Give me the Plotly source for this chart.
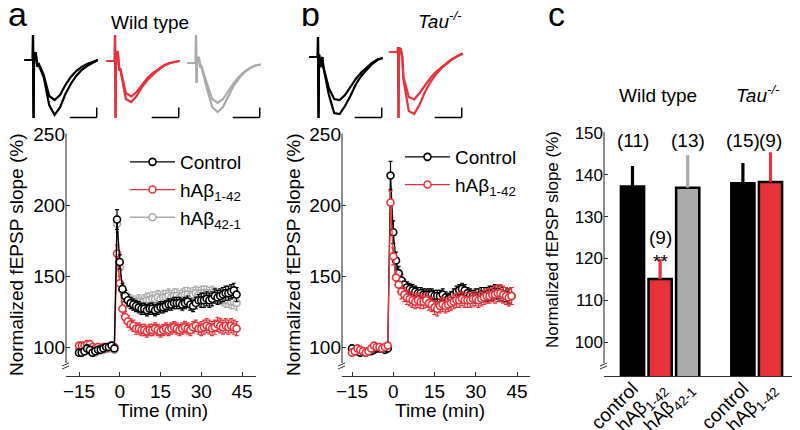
import plotly.graph_objects as go

FONT = "Arial, Liberation Sans, Helvetica, sans-serif"
BLACK = "#000000"
RED = "#e8323a"
GRAY = "#ababab"
AXIS = "#333333"
# the page body keeps its default 8 px margin, so the figure is sized to fill the 800x430 window
PAGE_MARGIN = 8
W, H = 800 - PAGE_MARGIN, 430 - PAGE_MARGIN

# ---------------- data: time courses (panels a, b) ----------------
TIME_MIN = list(range(-15, 44))

A_CONTROL = [96, 96, 97, 99, 98, 96, 97, 98, 98, 99, 100, 100, 101, 99,
             190,
             160, 141, 136, 133, 131, 130, 129, 128, 127, 127,
             126, 127, 127, 126, 127, 128, 128, 129, 130, 130,
             131, 131, 131, 130, 131, 132, 130, 129, 131, 133,
             133, 133, 134, 133, 134, 136, 135, 136, 137, 138,
             138, 139, 140, 137]
A_CONTROL_ERR = [2, 2, 2, 2, 2, 2, 2, 2, 2, 2, 2, 2, 2, 2,
                 7,
                 5, 4, 4, 4, 4, 4, 4, 4, 4, 4,
                 4, 4, 4, 4, 4, 4, 4, 4, 4, 4,
                 4, 4, 4, 4, 4, 4, 4, 4, 4, 4,
                 5, 5, 5, 5, 5, 5, 5, 5, 5, 5,
                 5, 5, 5, 5]
A_ABETA = [101, 101, 101, 102, 102, 100, 99, 100, 99, 100, 99, 100, 101, 100,
           166,
           145, 127, 121, 118, 116, 115, 113, 113, 112, 112,
           111, 112, 112, 113, 112, 111, 112, 113, 112, 113,
           114, 113, 112, 113, 114, 113, 112, 114, 115, 113,
           113, 114, 115, 114, 113, 114, 116, 115, 114, 115,
           114, 115, 114, 113]
A_ABETA_ERR = [2, 2, 2, 2, 2, 2, 2, 2, 2, 2, 2, 2, 2, 2,
               6,
               5, 5, 4, 4, 4, 4, 4, 4, 4, 4,
               4, 4, 4, 4, 4, 4, 4, 4, 4, 4,
               4, 4, 4, 4, 4, 4, 4, 4, 4, 4,
               5, 5, 5, 5, 5, 5, 5, 5, 5, 5,
               5, 5, 5, 5]
A_REVERSE = [98, 97, 97, 98, 97, 96, 96, 97, 98, 98, 99, 99, 100, 98,
             187,
             156, 140, 135, 133, 132, 131, 131, 132, 131, 132,
             133, 133, 134, 134, 135, 134, 135, 135, 136, 135,
             136, 136, 135, 136, 137, 137, 136, 137, 138, 137,
             138, 138, 138, 137, 138, 137, 136, 135, 134, 133,
             133, 132, 132, 131]
A_REVERSE_ERR = [2, 2, 2, 2, 2, 2, 2, 2, 2, 2, 2, 2, 2, 2,
                 6,
                 6, 5, 5, 5, 5, 5, 5, 5, 5, 5,
                 5, 5, 5, 5, 5, 5, 5, 5, 5, 5,
                 5, 5, 5, 5, 5, 5, 5, 5, 5, 5,
                 5, 5, 5, 5, 5, 5, 5, 5, 5, 5,
                 5, 5, 5, 5]

B_CONTROL = [99, 97, 97, 96, 97, 96, 97, 97, 98, 99, 99, 99, 98, 99,
             221,
             181, 161, 152, 147, 144, 142, 141, 140, 139, 138,
             138, 137, 137, 137, 137, 136, 136, 136, 137, 135,
             134, 135, 137, 139, 140, 141, 140, 138, 137, 136,
             136, 136, 137, 137, 137, 138, 138, 139, 139, 138,
             137, 137, 136, 136]
B_CONTROL_ERR = [2, 2, 2, 2, 2, 2, 2, 2, 2, 2, 2, 2, 2, 2,
                 10,
                 8, 6, 5, 4, 4, 4, 4, 4, 4, 4,
                 4, 4, 4, 4, 4, 4, 4, 4, 4, 4,
                 4, 4, 4, 4, 4, 4, 4, 4, 4, 4,
                 5, 5, 5, 5, 5, 5, 5, 5, 5, 5,
                 5, 5, 5, 6]
B_ABETA = [96, 97, 99, 98, 97, 96, 97, 99, 101, 100, 100, 99, 100, 101,
           202,
           164, 149, 144, 139, 137, 135, 134, 133, 132, 133,
           132, 132, 133, 131, 130, 128, 127, 129, 130, 129,
           130, 131, 132, 133, 133, 134, 133, 133, 133, 134,
           134, 133, 134, 135, 136, 136, 137, 137, 138, 138,
           137, 136, 135, 136]
B_ABETA_ERR = [2, 2, 2, 2, 2, 2, 2, 2, 2, 2, 2, 2, 2, 2,
               8,
               6, 5, 5, 5, 5, 5, 5, 5, 5, 5,
               5, 5, 5, 5, 5, 5, 5, 5, 5, 5,
               5, 5, 5, 5, 5, 5, 5, 5, 5, 5,
               5, 5, 5, 5, 5, 5, 5, 6, 6, 6,
               6, 6, 6, 6]

TIME_TICKS = [-15, 0, 15, 30, 45]
A_Y_TICKS = [100, 150, 200, 250]

# ---------------- data: summary bars (panel c) ----------------
C_LABELS = ["control", "hAβ<sub>1-42</sub>", "hAβ<sub>42-1</sub>", "control", "hAβ<sub>1-42</sub>"]
C_POS = [0, 1, 2, 4, 5]
C_MEAN = [137.2, 115.1, 136.9, 138.0, 138.3]
C_SEM = [4.9, 4.8, 7.8, 4.8, 7.1]
C_N = ["(11)", "(9)", "(13)", "(15)", "(9)"]
C_Y_TICKS = [100, 110, 120, 130, 140, 150]

# ---------------- data: example fEPSP traces (insets) ----------------
INSET_T_MS = [-1.6, -0.05, 0.0, 0.1, 0.2, 0.5, 0.8, 1.0, 2.0, 3.0, 4.0,
              5.0, 6.0, 7.0, 8.0, 9.0, 10.0, 11.0, 12.0]
WT_CTRL_PRE = [0, 0, 0.5, -1.16, 0.05, 0.14, -0.12, -0.06, -0.3, -0.72, -0.8,
               -0.7, -0.5, -0.34, -0.22, -0.14, -0.08, -0.04, 0.0]
WT_CTRL_POST = [0, 0, 0.5, -1.16, 0.05, 0.16, -0.14, -0.08, -0.35, -0.9, -1.1,
                -0.95, -0.68, -0.48, -0.32, -0.2, -0.12, -0.06, 0.0]
WT_AB_PRE = [0, 0, 0.52, -1.14, 0.05, 0.2, -0.18, -0.15, -0.64, -0.71, -0.62,
             -0.47, -0.34, -0.24, -0.16, -0.09, -0.04, -0.02, 0.0]
WT_AB_POST = [0, 0, 0.52, -1.14, 0.05, 0.2, -0.18, -0.18, -0.76, -0.82, -0.7,
              -0.52, -0.38, -0.27, -0.18, -0.1, -0.05, -0.02, 0.0]
WT_REV_PRE = [0, 0, 0.56, -0.4, 0.05, 0.12, -0.08, -0.06, -0.4, -0.72, -0.8,
              -0.72, -0.56, -0.4, -0.27, -0.17, -0.1, -0.05, -0.03]
WT_REV_POST = [0, 0, 0.56, -0.4, 0.05, 0.12, -0.08, -0.08, -0.5, -0.88, -0.98,
               -0.88, -0.66, -0.45, -0.3, -0.18, -0.1, -0.05, -0.03]
TAU_CTRL_PRE = [0, 0, 0.4, -1.22, 0.05, -0.2, 0.0, -0.2, -0.62, -0.84, -0.86,
                -0.76, -0.6, -0.44, -0.31, -0.21, -0.12, -0.05, -0.02]
TAU_CTRL_POST = [0, 0, 0.4, -1.22, 0.05, -0.2, 0.0, -0.2, -0.75, -1.12, -1.14,
                 -0.98, -0.78, -0.55, -0.38, -0.26, -0.14, -0.06, -0.02]
TAU_AB_PRE = [0, 0, 0.1, -1.32, 0.08, 0.06, -0.1, -0.5, -0.9, -0.95, -0.82,
              -0.66, -0.52, -0.4, -0.3, -0.22, -0.14, -0.08, -0.03]
TAU_AB_POST = [0, 0, 0.1, -1.32, 0.08, 0.06, -0.1, -0.55, -1.18, -1.24, -1.05,
               -0.8, -0.6, -0.45, -0.33, -0.24, -0.15, -0.08, -0.03]
SCALE_MS = 5
SCALE_MV = 0.2


# ---------------- geometry helpers (window pixel layout -> paper / ranges) ----------------
def fx(p):
    return (p - PAGE_MARGIN) / W


def fy(p):
    return 1 - (p - PAGE_MARGIN) / H


def lin(p, p1, v1, p2, v2):
    return v1 + (p - p1) * (v2 - v1) / (p2 - p1)


fig = go.Figure()

tick_font = dict(family=FONT, size=19, color=BLACK)


def ts_trace(y, err, color, name, xa, ya, legend, rank):
    return go.Scatter(
        x=TIME_MIN, y=y, name=name, mode="lines+markers",
        xaxis=xa, yaxis=ya, legend=legend, legendrank=rank,
        line=dict(color=color, width=1.3),
        marker=dict(symbol="circle", size=7, color="white",
                    line=dict(color=color, width=1.6)),
        error_y=dict(type="data", array=err, color=color, thickness=1.2, width=2),
    )


# panel a (draw order: gray, red, black)
fig.add_trace(ts_trace(A_REVERSE, A_REVERSE_ERR, GRAY, "hAβ<sub>42-1</sub>", "x", "y", "legend", 3))
fig.add_trace(ts_trace(A_ABETA, A_ABETA_ERR, RED, "hAβ<sub>1-42</sub>", "x", "y", "legend", 2))
fig.add_trace(ts_trace(A_CONTROL, A_CONTROL_ERR, BLACK, "Control", "x", "y", "legend", 1))
# panel b (draw order: black, red)
fig.add_trace(ts_trace(B_CONTROL, B_CONTROL_ERR, BLACK, "Control", "x2", "y2", "legend2", 1))
fig.add_trace(ts_trace(B_ABETA, B_ABETA_ERR, RED, "hAβ<sub>1-42</sub>", "x2", "y2", "legend2", 2))

# panel c bars
C_COLORS = [BLACK, RED, GRAY, BLACK, RED]
for pos, m, s, col in zip(C_POS, C_MEAN, C_SEM, C_COLORS):
    fig.add_trace(go.Bar(
        x=[pos], y=[m], xaxis="x3", yaxis="y3", width=0.84, showlegend=False,
        marker=dict(color=col, line=dict(color=BLACK, width=2.5)),
        error_y=dict(type="data", array=[s], arrayminus=[0], symmetric=False,
                     color=col, thickness=3.2, width=0),
    ))

# insets
INSETS = [
    # (artifact px, baseline py, color, pre, post)
    (33, 60, BLACK, WT_CTRL_PRE, WT_CTRL_POST),
    (115, 61, RED, WT_AB_PRE, WT_AB_POST),
    (196, 63, GRAY, WT_REV_PRE, WT_REV_POST),
    (318, 57, BLACK, TAU_CTRL_PRE, TAU_CTRL_POST),
    (398, 52, RED, TAU_AB_PRE, TAU_AB_POST),
]
PX_PER_MS = 5.4
PX_PER_MV = 50.0
INS_TOP, INS_BOT = 28, 125

layout_axes = {}
shapes = []
for i, (art, base, col, pre, post) in enumerate(INSETS):
    k = i + 4
    xl, xr = art - 13, art + 70
    xr_rng = [(xl - art) / PX_PER_MS, (xr - art) / PX_PER_MS]
    yr_rng = [(base - INS_BOT) / PX_PER_MV, (base - INS_TOP) / PX_PER_MV]
    layout_axes[f"xaxis{k}"] = dict(domain=[fx(xl), fx(xr)], range=xr_rng, visible=False,
                                    anchor=f"y{k}", fixedrange=True, automargin=False)
    layout_axes[f"yaxis{k}"] = dict(domain=[fy(INS_BOT), fy(INS_TOP)], range=yr_rng, visible=False,
                                    anchor=f"x{k}", fixedrange=True, automargin=False)
    for wave in (pre, post):
        fig.add_trace(go.Scatter(x=INSET_T_MS, y=wave, xaxis=f"x{k}", yaxis=f"y{k}",
                                 mode="lines", line=dict(color=col, width=2.2),
                                 showlegend=False, hoverinfo="skip"))
    ybar = yr_rng[0] + 0.15
    xb1 = 11.8
    xb0 = xb1 - SCALE_MS
    shapes.append(dict(type="line", xref=f"x{k}", yref=f"y{k}", x0=xb0, x1=xb1, y0=ybar, y1=ybar,
                       line=dict(color=BLACK, width=1.5)))
    shapes.append(dict(type="line", xref=f"x{k}", yref=f"y{k}", x0=xb1, x1=xb1, y0=ybar, y1=ybar + SCALE_MV,
                       line=dict(color=BLACK, width=1.5)))

# main axes geometry (window pixels)
XAX_PY = 376
BREAK_PY = 365
A_X = (66, 256)
B_X = (342, 530)
C_X = (604, 797)
AB_TOP = 133.5
C_TOP = 132

a_xr = [lin(A_X[0], 79, -15, 242, 45), lin(A_X[1], 79, -15, 242, 45)]
b_xr = [lin(B_X[0], 352, -15, 517, 45), lin(B_X[1], 352, -15, 517, 45)]
ab_yr = [lin(XAX_PY, 347, 100, 134.5, 250), lin(AB_TOP, 347, 100, 134.5, 250)]
c_xr = [lin(C_X[0], 632.5, 0, 770.5, 5), lin(C_X[1], 632.5, 0, 770.5, 5)]
c_yr = [lin(XAX_PY, 342, 100, 133, 150), lin(C_TOP, 342, 100, 133, 150)]

common_x = dict(showline=True, linecolor=AXIS, linewidth=1.1, ticks="inside", ticklen=4,
                tickcolor=AXIS, showgrid=False, zeroline=False, tickfont=tick_font,
                fixedrange=True, automargin=False, ticklabelstandoff=-2)
common_y = dict(showline=False, ticks="inside", ticklen=4, tickcolor=AXIS, showgrid=False,
                zeroline=False, tickfont=tick_font, fixedrange=True, automargin=False)

layout_axes["xaxis"] = dict(common_x, domain=[fx(A_X[0]), fx(A_X[1])], range=a_xr,
                            tickvals=TIME_TICKS, anchor="y")
layout_axes["yaxis"] = dict(common_y, domain=[fy(XAX_PY), fy(AB_TOP)], range=ab_yr,
                            tickvals=A_Y_TICKS, anchor="x")
layout_axes["xaxis2"] = dict(common_x, domain=[fx(B_X[0]), fx(B_X[1])], range=b_xr,
                             tickvals=TIME_TICKS, anchor="y2")
layout_axes["yaxis2"] = dict(common_y, domain=[fy(XAX_PY), fy(AB_TOP)], range=ab_yr,
                             tickvals=A_Y_TICKS, anchor="x2")
layout_axes["xaxis3"] = dict(common_x, domain=[fx(C_X[0]), fx(C_X[1])], range=c_xr,
                             tickvals=C_POS, ticktext=C_LABELS, ticks="", tickangle=-45,
                             ticklabelstandoff=-7,
                             tickfont=dict(family=FONT, size=19, color=BLACK), anchor="y3")
layout_axes["yaxis3"] = dict(common_y, domain=[fy(XAX_PY), fy(C_TOP)], range=c_yr,
                             tickvals=C_Y_TICKS, tickfont=dict(family=FONT, size=17, color=BLACK),
                             anchor="x3")

# y axis lines (stop at the break) + break marks
for ax_px, top in ((A_X[0], AB_TOP), (B_X[0], AB_TOP), (C_X[0], C_TOP)):
    shapes.append(dict(type="line", xref="paper", yref="paper", x0=fx(ax_px), x1=fx(ax_px),
                       y0=fy(BREAK_PY - 2), y1=fy(top), line=dict(color=AXIS, width=1.1)))
    for dy in (0, 3):
        shapes.append(dict(type="line", xref="paper", yref="paper",
                           x0=fx(ax_px - 4), x1=fx(ax_px + 3),
                           y0=fy(BREAK_PY + 1 + dy), y1=fy(BREAK_PY - 2 + dy),
                           line=dict(color=AXIS, width=1)))

annotations = []


def ann(text, x, y, size=19, angle=0, xref="paper", yref="paper", **kw):
    annotations.append(dict(text=text, x=x, y=y, xref=xref, yref=yref, showarrow=False,
                            textangle=angle, font=dict(family=FONT, size=size, color=BLACK),
                            xanchor="center", yanchor="middle", **kw))


ann("a", fx(17), fy(14), size=34)
ann("b", fx(310), fy(14), size=34)
ann("c", fx(556), fy(14), size=34)
ann("Wild type", fx(150), fy(22))
ann("<i>Tau<sup>-/-</sup></i>", fx(440), fy(20))
ann("Wild type", fx(658), fy(96))
ann("<i>Tau<sup>-/-</sup></i>", fx(758), fy(94))
ann("Normalized fEPSP slope (%)", fx(16), fy(255), angle=-90)
ann("Normalized fEPSP slope (%)", fx(293), fy(255), angle=-90)
ann("Normalized fEPSP slope (%)", fx(552), fy(240), size=17, angle=-90)
ann("Time (min)", fx(163), fy(410))
ann("Time (min)", fx(440), fy(410))

N_LABEL_Y = [148.3, 125.1, 148.3, 148.3, 148.3]
for pos, n, ly in zip(C_POS, C_N, N_LABEL_Y):
    ann(n, pos, ly, xref="x3", yref="y3")
ann("**", C_POS[1], 119.3, xref="x3", yref="y3")

legend_common = dict(font=dict(family=FONT, size=19, color=BLACK), bgcolor="rgba(0,0,0,0)",
                     xanchor="left", yanchor="top", itemwidth=45, tracegroupgap=0,
                     itemclick=False, itemdoubleclick=False)

fig.update_layout(
    width=W, height=H, margin=dict(l=0, r=0, t=0, b=0, autoexpand=False),
    paper_bgcolor="white", plot_bgcolor="white",
    font=dict(family=FONT, color=BLACK),
    barmode="overlay",
    showlegend=True,
    legend=dict(legend_common, x=fx(125), y=fy(143)),
    legend2=dict(legend_common, x=fx(400), y=fy(138)),
    shapes=shapes,
    annotations=annotations,
    **layout_axes,
)

fig.write_html("out.html")
